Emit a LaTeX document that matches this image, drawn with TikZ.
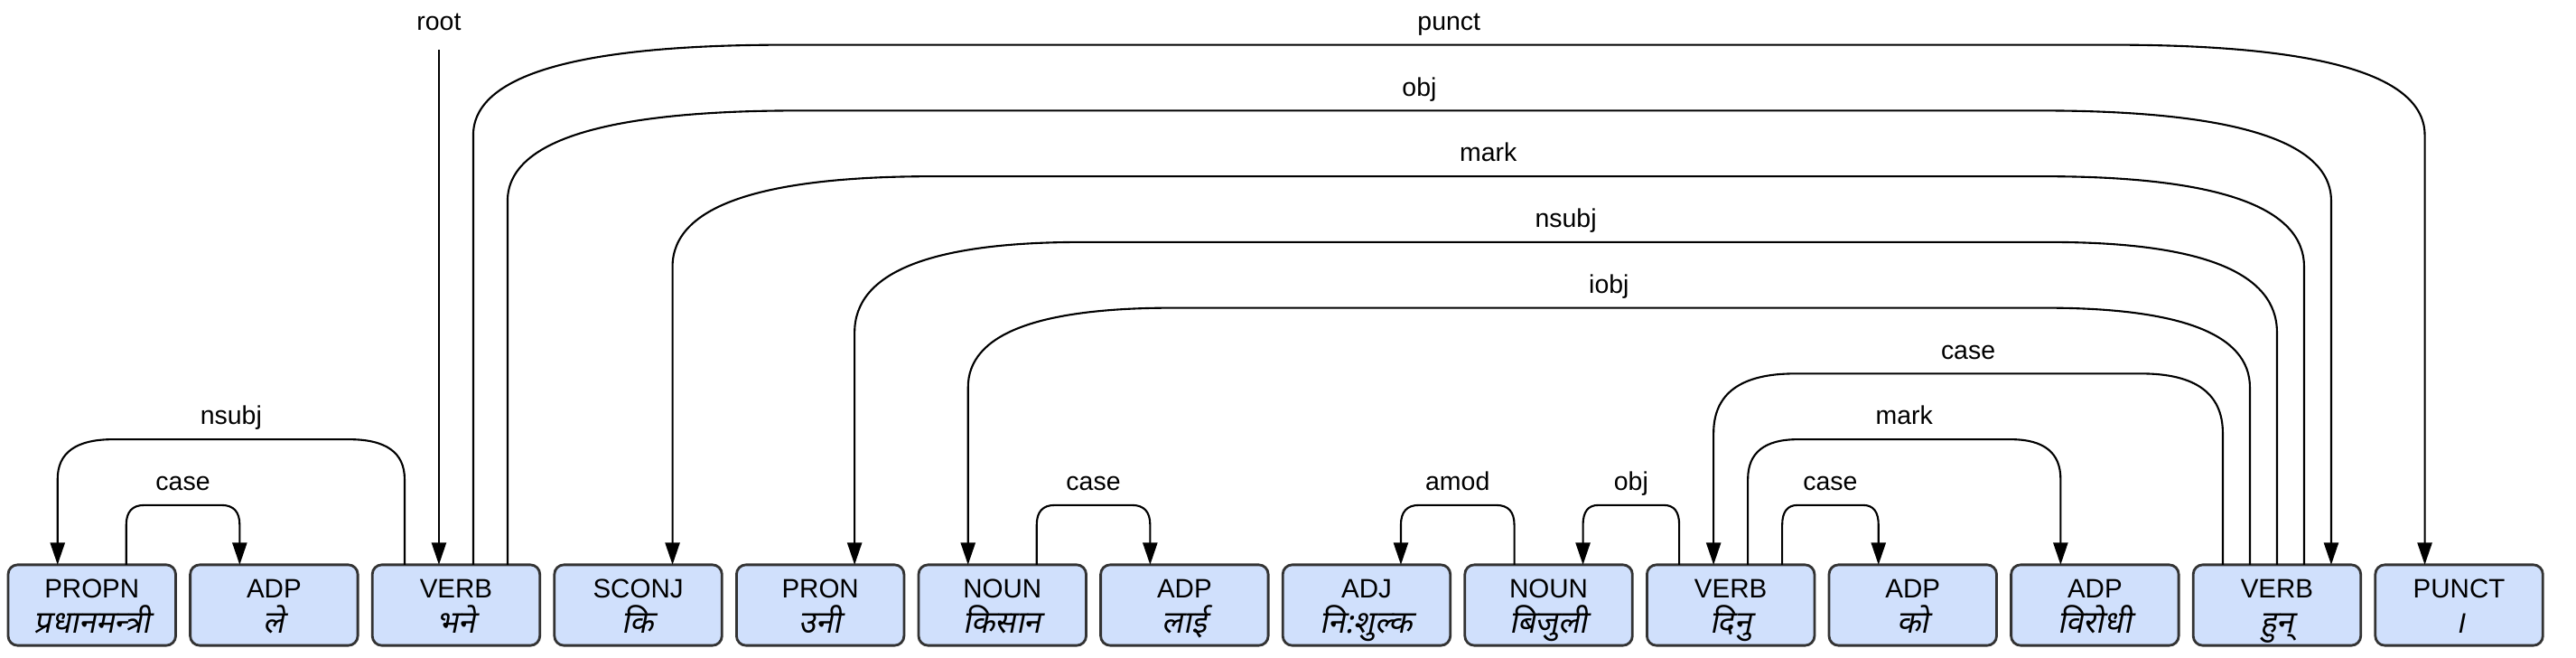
\documentclass[tikz,border=0pt]{standalone}
\usepackage{fontspec}
\setmainfont{Liberation Sans}
\newfontfamily\devfont[Script=Devanagari,FakeSlant=0.2]{Noto Sans}
\usetikzlibrary{positioning,calc,arrows.meta}
\definecolor{tokfill}{HTML}{D0E0FC}
\newcommand{\toktext}[2]{\rule{0pt}{10.4pt}#1\\{\devfont\fontsize{9.8}{11}\selectfont\rule[-4pt]{0pt}{4pt}#2}}
\tikzset{tok/.style={draw=black!80,fill=tokfill,rounded corners=3pt,line width=0.8pt,
           minimum width=1.855cm,minimum height=0.87cm,inner sep=0pt,outer sep=0pt,
           align=center,font=\fontsize{8.4}{11}\selectfont},
         dep/.style={line width=0.6pt,-{Triangle[length=7pt,width=4.6pt]}},
         deplbl/.style={font=\fontsize{8.1}{9}\selectfont,anchor=base,yshift=1.63mm,inner sep=0pt},
         node distance=1.61mm}
\newcommand{\deparc}[6]{%
  \draw[dep] let \p1=($(#1.north)+(#2,0)$), \p2=($(#3.north)+(#4,0)$),
      \n1={\y1+0.66cm+0.7275cm*(#5-1)}, \n2={min(0.22*#5,1.0)*1cm}, \n3={0.16*(\x2-\x1)} in
    (\x1,\y1) -- (\x1,\n1-\n2) .. controls (\x1,\n1-\n2/3) and (\x1+\n3/3,\n1) .. (\x1+\n3,\n1)
    -- node[deplbl] (l#1#3) {#6} (\x2-\n3,\n1)
    .. controls (\x2-\n3/3,\n1) and (\x2,\n1-\n2/3) .. (\x2,\n1-\n2) -- (\x2,\y2);}

\begin{document}
\begin{tikzpicture}
    \useasboundingbox (0,0) rectangle (28.52,7.27);
    \node[tok] (w1) at (1.0175,0.575) {\toktext{PROPN}{प्रधानमन्त्री}};
    \node[tok,right=of w1] (w2) {\toktext{ADP}{ले}};
    \node[tok,right=of w2] (w3) {\toktext{VERB}{भने}};
    \node[tok,right=of w3] (w4) {\toktext{SCONJ}{कि}};
    \node[tok,right=of w4] (w5) {\toktext{PRON}{उनी}};
    \node[tok,right=of w5] (w6) {\toktext{NOUN}{किसान}};
    \node[tok,right=of w6] (w7) {\toktext{ADP}{लाई}};
    \node[tok,right=of w7] (w8) {\toktext{ADJ}{नि:शुल्क}};
    \node[tok,right=of w8] (w9) {\toktext{NOUN}{बिजुली}};
    \node[tok,right=of w9] (w10) {\toktext{VERB}{दिनु}};
    \node[tok,right=of w10] (w11) {\toktext{ADP}{को}};
    \node[tok,right=of w11] (w12) {\toktext{ADP}{विरोधी}};
    \node[tok,right=of w12] (w13) {\toktext{VERB}{हुन्}};
    \node[tok,right=of w13] (w14) {\toktext{PUNCT}{।}};

    \coordinate (roottop) at ($(w3.north)+(-0.19,5.70)$);
    \node[deplbl,yshift=0.5mm] (rootlbl) at (roottop) {root};
    \draw[dep] (roottop) -- ($(w3.north)+(-0.19,0)$);

    \deparc{w3}{-0.57}{w1}{-0.38}{2}{nsubj}
    \deparc{w1}{0.38}{w2}{-0.38}{1}{case}
    \deparc{w3}{0.19}{w14}{-0.38}{8}{punct}
    \deparc{w3}{0.57}{w13}{0.60}{7}{obj}
    \deparc{w13}{0.30}{w4}{0.38}{6}{mark}
    \deparc{w13}{0}{w5}{0.38}{5}{nsubj}
    \deparc{w13}{-0.30}{w6}{-0.38}{4}{iobj}
    \deparc{w13}{-0.60}{w10}{-0.19}{3}{case}
    \deparc{w10}{0.19}{w12}{-0.38}{2}{mark}
    \deparc{w10}{0.57}{w11}{-0.38}{1}{case}
    \deparc{w6}{0.38}{w7}{-0.38}{1}{case}
    \deparc{w9}{-0.38}{w8}{0.38}{1}{amod}
    \deparc{w10}{-0.57}{w9}{0.38}{1}{obj}
\end{tikzpicture}
\end{document}
